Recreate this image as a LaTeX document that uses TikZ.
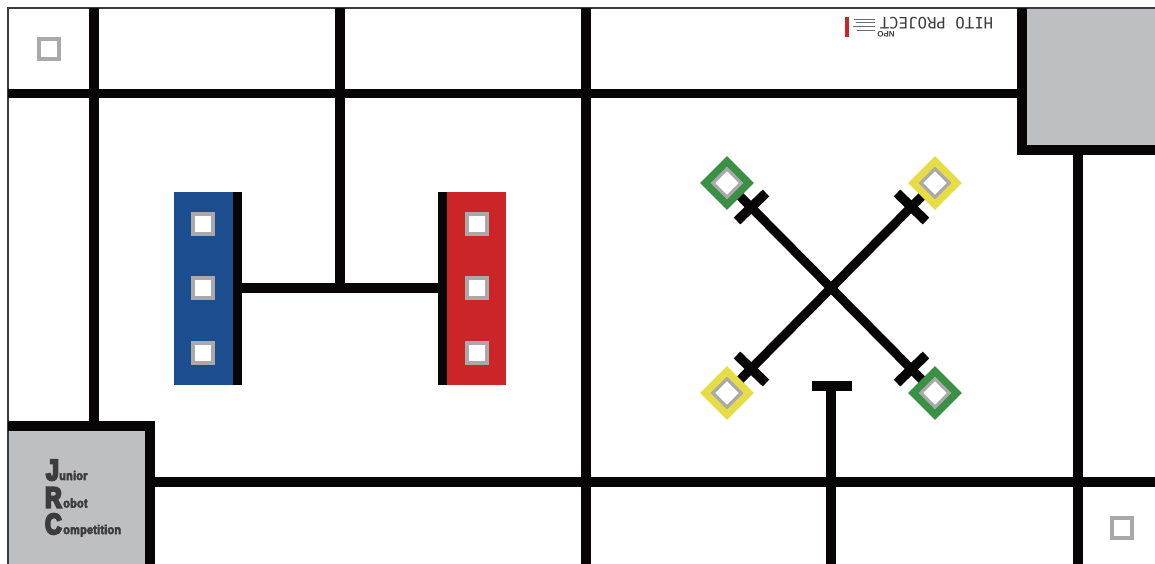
\documentclass[tikz,border=0pt]{standalone}
\usepackage{fontspec}
\setmainfont{Liberation Sans}
\newfontfamily\monoface{DejaVu Sans Mono}
\newfontfamily\jrcbig[FakeStretch=.78]{Liberation Sans Bold}
\newfontfamily\jrcsmall[FakeStretch=.88,LetterSpace=1.5]{Liberation Sans Bold}
\newcommand{\heavytext}[2]{\special{pdf:code q 2 Tr #1 w}#2\special{pdf:code Q}}
\definecolor{linek}{HTML}{080506}
\definecolor{fieldgray}{HTML}{BEBFC3}
\definecolor{markgray}{HTML}{A9A9AB}
\definecolor{jblue}{HTML}{1C4D8F}
\definecolor{jred}{HTML}{CB2529}
\definecolor{jgreen}{HTML}{3A9145}
\definecolor{jyellow}{HTML}{E6DC46}
\definecolor{txtgray}{HTML}{3C3C3E}
\usetikzlibrary{shapes.geometric,calc}
\tikzset{
  trackline/.style={draw=linek,line width=9.5pt},
  framerule/.style={draw=txtgray,line width=1.6pt},
  goalbox/.style={fill=fieldgray,draw=none},
  marksq/.style={draw=markgray,fill=white,line width=4pt,minimum size=19.5pt,inner sep=0pt,shape=rectangle},
  diaouter/.style={fill=#1,draw=none,shape=diamond,inner sep=0pt,minimum width=54pt,minimum height=54pt},
  diainner/.style={fill=white,draw=markgray,line width=3.2pt,shape=diamond,inner sep=0pt,minimum width=29.5pt,minimum height=29.5pt},
  bigL/.style={font=\jrcbig\fontsize{29}{29}\selectfont,text=txtgray,inner sep=0pt,anchor=base west},
  smallL/.style={font=\jrcsmall\fontsize{12.5}{12.5}\selectfont,text=txtgray,inner sep=0pt,anchor=base west},
  greek/.style={draw=txtgray!75,line width=.8pt},
}
\begin{document}
\begin{tikzpicture}[x=1pt,y=-1pt]
\useasboundingbox (0,0) rectangle (1155,564);
\fill[white] (0,0) rectangle (1155,564);
% gray goal boxes
\fill[goalbox] (1022,8) rectangle (1155,150);
\fill[goalbox] (8,426) rectangle (150,564);
% frame
\draw[framerule] (8,564) -- (8,8) -- (1155,8);
% named points
\coordinate (c) at (831,288);
\coordinate (pNW) at (727,183);
\coordinate (pNE) at (935,183);
\coordinate (pSW) at (727,393);
\coordinate (pSE) at (935,393);
% track
\draw[trackline] (8,93.5) -- (1022,93.5);
\draw[trackline] (94,8) -- (94,426);
\draw[trackline] (340,8) -- (340,288);
\draw[trackline] (586,8) -- (586,564);
\draw[trackline] (150,482) -- (1155,482);
\draw[trackline] (1078,150) -- (1078,564);
\draw[trackline] (831,386) -- (831,564);
\draw[trackline] (812,386) -- (852,386);
\draw[trackline] (237.5,288) -- (442.5,288);
% goal box borders
\draw[trackline] (1022,8) -- (1022,150) -- (1155,150);
\draw[trackline] (8,426) -- (150,426) -- (150,564);
% start zones
\fill[jblue] (174,192) rectangle (233,385);
\fill[jred] (447,192) rectangle (506,385);
\draw[trackline] (237.5,192) -- (237.5,385);
\draw[trackline] (442.5,192) -- (442.5,385);
\node[marksq] (b1) at (203,224) {};
\node[marksq] (b2) at (203,288) {};
\node[marksq] (b3) at (203,353) {};
\node[marksq] (r1) at (477,224) {};
\node[marksq] (r2) at (477,288) {};
\node[marksq] (r3) at (477,353) {};
\node[marksq] (m1) at (49,49) {};
\node[marksq] (m2) at (1122,528) {};
% X
\draw[trackline,line width=9pt] (c) -- (pNW);
\draw[trackline,line width=9pt] (c) -- (pNE);
\draw[trackline,line width=9pt] (c) -- (pSW);
\draw[trackline,line width=9pt] (c) -- (pSE);
\node[diaouter=jgreen]  (dNW) at (pNW) {};
\node[diaouter=jyellow] (dNE) at (pNE) {};
\node[diaouter=jyellow] (dSW) at (pSW) {};
\node[diaouter=jgreen]  (dSE) at (pSE) {};
\node[diainner] (iNW) at (pNW) {};
\node[diainner] (iNE) at (pNE) {};
\node[diainner] (iSW) at (pSW) {};
\node[diainner] (iSE) at (pSE) {};
% cross bars
\draw[trackline] (737,221) -- (766,193);
\draw[trackline] (897,193) -- (926,221);
\draw[trackline] (737,355) -- (766,383);
\draw[trackline] (897,383) -- (926,355);
% logo
\fill[jred] (845,17) rectangle (848.5,37);
\node[rotate=180,inner sep=0pt,text=txtgray,font=\monoface\fontsize{15.7}{15.7}\selectfont] (hito) at (936.5,23) {HITO PROJECT};
\node[rotate=180,inner sep=0pt,text=txtgray,font=\bfseries\fontsize{8}{8}\selectfont] (npo) at (886,34.5) {NPO};
\draw[greek] (854,19.5) -- (875,19.5);
\draw[greek] (856,22) -- (875,22);
\draw[greek] (853,26) -- (875,26);
\draw[greek] (857,30) -- (875,30);
% JRC logo
\node[bigL] (J) at (46,480) {\heavytext{2.2}{J}};
\node[smallL] (Jt) at (59,480) {\heavytext{.5}{unior}};
\node[bigL] (R) at (45,507.5) {\heavytext{2.2}{R}};
\node[smallL] (Rt) at (63,507.5) {\heavytext{.5}{obot}};
\node[bigL] (C) at (45,534) {\heavytext{2.2}{C}};
\node[smallL] (Ct) at (63,534) {\heavytext{.5}{ompetition}};
\end{tikzpicture}
\end{document}
